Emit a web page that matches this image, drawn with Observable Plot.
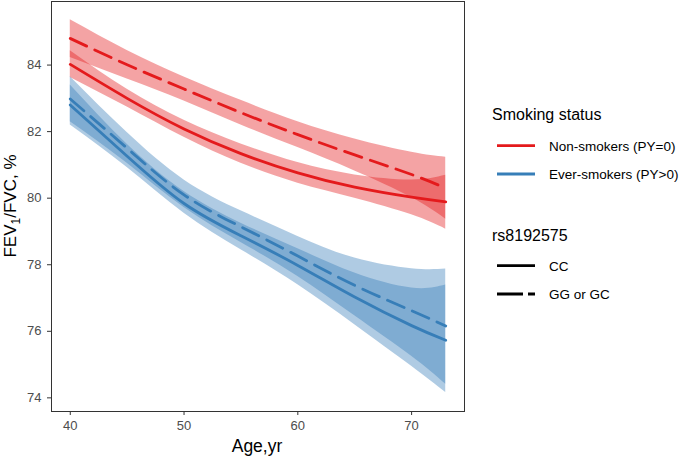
<!DOCTYPE html>
<html>
<head>
<meta charset="utf-8">
<script src="https://cdn.jsdelivr.net/npm/d3@7"></script>
<script src="https://cdn.jsdelivr.net/npm/@observablehq/plot@0.6"></script>
<style>
  body { margin: 0; background: #fff; font-family: "Liberation Sans", Arial, sans-serif; }
  #wrap { width: 685px; height: 457px; }
</style>
</head>
<body>
<div id="wrap"></div>
<script>
// ---- data ----
const ages = [40, 45, 50, 55, 60, 65, 70, 73];
const statusLabels = ["Non-smokers (PY=0)", "Ever-smokers (PY>0)"];
const genotypeLabels = ["CC", "GG or GC"];
const statusColors = ["#E41A1C", "#377EB8"];

// Non-smokers, CC (solid)
const nonCC_mean = [84.02, 83.00, 82.08, 81.34, 80.76, 80.33, 80.03, 79.89];
const nonCC_lo   = [83.63, 82.74, 81.83, 81.05, 80.45, 80.00, 79.50, 79.07];
const nonCC_hi   = [84.43, 83.27, 82.34, 81.63, 81.07, 80.70, 80.55, 80.69];
// Non-smokers, GG or GC (dashed)
const nonGG_mean = [84.80, 84.01, 83.28, 82.57, 81.91, 81.30, 80.71, 80.30];
const nonGG_lo   = [84.23, 83.58, 82.92, 82.20, 81.52, 80.82, 80.02, 79.37];
const nonGG_hi   = [85.36, 84.44, 83.64, 82.94, 82.30, 81.78, 81.38, 81.23];
// Ever-smokers, CC (solid)
const evCC_mean  = [82.80, 81.26, 79.84, 78.87, 77.98, 77.03, 76.17, 75.73];
const evCC_lo    = [82.20, 80.92, 79.55, 78.45, 77.40, 76.20, 74.95, 74.16];
const evCC_hi    = [83.40, 81.62, 80.20, 79.25, 78.48, 77.75, 77.30, 77.39];
// Ever-smokers, GG or GC (dashed)
const evGG_mean  = [82.98, 81.50, 80.10, 79.14, 78.26, 77.38, 76.62, 76.16];
const evGG_lo    = [82.30, 81.05, 79.72, 78.67, 77.65, 76.47, 75.25, 74.41];
const evGG_hi    = [83.65, 81.97, 80.55, 79.62, 78.85, 78.20, 77.88, 77.87];

const xTicks = [40, 50, 60, 70];
const yTicks = [74, 76, 78, 80, 82, 84];

// ---- table ----
const rows = [];
function add(status, geno, mean, lo, hi) {
  ages.forEach((a, i) => rows.push({age: a, status, geno, mean: mean[i], lo: lo[i], hi: hi[i]}));
}
add(statusLabels[0], genotypeLabels[0], nonCC_mean, nonCC_lo, nonCC_hi);
add(statusLabels[0], genotypeLabels[1], nonGG_mean, nonGG_lo, nonGG_hi);
add(statusLabels[1], genotypeLabels[0], evCC_mean, evCC_lo, evCC_hi);
add(statusLabels[1], genotypeLabels[1], evGG_mean, evGG_lo, evGG_hi);

const curve = "natural";
const dash = "18,9";
const lw = 2.8;

const plot = Plot.plot({
  width: 685,
  height: 457,
  marginLeft: 51,
  marginRight: 221,
  marginTop: 1,
  marginBottom: 46,
  style: {fontFamily: "Liberation Sans, Arial, sans-serif", fontSize: "13px", background: "#fff"},
  x: {domain: [38.35, 74.65]},
  y: {domain: [73.59, 85.91]},
  color: {domain: statusLabels, range: statusColors},
  marks: [
    Plot.areaY(rows, {x: "age", y1: "lo", y2: "hi", z: d => d.status + "|" + d.geno, fill: "status", fillOpacity: 0.4, curve}),
    Plot.lineY(rows.filter(d => d.geno === genotypeLabels[0]), {x: "age", y: "mean", z: "status", stroke: "status", strokeWidth: lw, curve}),
    Plot.lineY(rows.filter(d => d.geno === genotypeLabels[1]), {x: "age", y: "mean", z: "status", stroke: "status", strokeWidth: lw, strokeDasharray: dash, curve}),
    Plot.frame({stroke: "#333", strokeWidth: 1}),
    Plot.axisX({ticks: xTicks, tickSize: 4, tickPadding: 5, label: null, stroke: "#333", fill: "#4D4D4D"}),
    Plot.axisY({ticks: yTicks, tickSize: 4, tickPadding: 6, label: null, stroke: "#333", fill: "#4D4D4D"})
  ]
});

document.getElementById("wrap").appendChild(plot);

// ---- titles and legend as SVG text ----
const svg = d3.select(plot);
const ff = "Liberation Sans, Arial, sans-serif";

svg.append("text")
  .attr("x", 257).attr("y", 452)
  .attr("text-anchor", "middle")
  .attr("font-family", ff).attr("font-size", 17.5).attr("fill", "#000")
  .text("Age,yr");

const yt = svg.append("text")
  .attr("transform", "translate(16,206) rotate(-90)")
  .attr("text-anchor", "middle")
  .attr("font-family", ff).attr("font-size", 17).attr("fill", "#000");
yt.append("tspan").text("FEV");
yt.append("tspan").attr("font-size", 12).attr("dy", 4).text("1");
yt.append("tspan").attr("dy", -4).text("/FVC, %");

const lg = svg.append("g").attr("font-family", ff).attr("text-anchor", "start");
lg.append("text").attr("x", 492).attr("y", 114).attr("dy", "0.36em").attr("text-anchor", "start")
  .attr("font-size", 16).attr("fill", "#000").text("Smoking status");
const statusY = [145.7, 174];
statusLabels.forEach((lab, i) => {
  lg.append("line").attr("x1", 497).attr("x2", 535).attr("y1", statusY[i]).attr("y2", statusY[i])
    .attr("stroke", statusColors[i]).attr("stroke-width", lw);
  lg.append("text").attr("x", 549).attr("y", statusY[i]).attr("dy", "0.36em").attr("text-anchor", "start")
    .attr("font-size", 13.5).attr("fill", "#000").text(lab);
});
lg.append("text").attr("x", 492).attr("y", 235).attr("dy", "0.36em").attr("text-anchor", "start")
  .attr("font-size", 16).attr("fill", "#000").text("rs8192575");
const genoY = [265.7, 294];
genotypeLabels.forEach((lab, i) => {
  lg.append("line").attr("x1", 497).attr("x2", 535).attr("y1", genoY[i]).attr("y2", genoY[i])
    .attr("stroke", "#000").attr("stroke-width", lw)
    .attr("stroke-dasharray", i === 1 ? "26,5" : null);
  lg.append("text").attr("x", 549).attr("y", genoY[i]).attr("dy", "0.36em").attr("text-anchor", "start")
    .attr("font-size", 13.5).attr("fill", "#000").text(lab);
});
</script>
</body>
</html>
